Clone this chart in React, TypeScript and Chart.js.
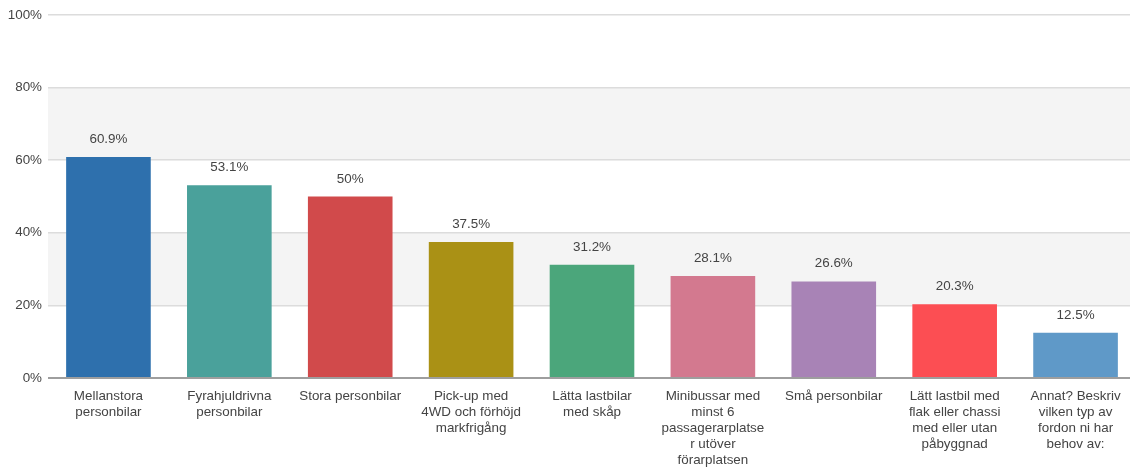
import React, { useEffect, useRef } from "react";
import { Chart, registerables } from "chart.js";

Chart.register(...registerables);

const categories: string[] = [
  "Mellanstora personbilar",
  "Fyrahjuldrivna personbilar",
  "Stora personbilar",
  "Pick-up med 4WD och förhöjd markfrigång",
  "Lätta lastbilar med skåp",
  "Minibussar med minst 6 passagerarplatser utöver förarplatsen",
  "Små personbilar",
  "Lätt lastbil med flak eller chassi med eller utan påbyggnad",
  "Annat? Beskriv vilken typ av fordon ni har behov av:",
];

const tickLabels: string[][] = [
  ["Mellanstora", "personbilar"],
  ["Fyrahjuldrivna", "personbilar"],
  ["Stora personbilar"],
  ["Pick-up med", "4WD och förhöjd", "markfrigång"],
  ["Lätta lastbilar", "med skåp"],
  ["Minibussar med", "minst 6", "passagerarplatse", "r utöver", "förarplatsen"],
  ["Små personbilar"],
  ["Lätt lastbil med", "flak eller chassi", "med eller utan", "påbyggnad"],
  ["Annat? Beskriv", "vilken typ av", "fordon ni har", "behov av:"],
];

const values: number[] = [60.9, 53.1, 50, 37.5, 31.2, 28.1, 26.6, 20.3, 12.5];

const valueLabels: string[] = ["60.9%", "53.1%", "50%", "37.5%", "31.2%", "28.1%", "26.6%", "20.3%", "12.5%"];

const barColors: string[] = [
  "#2e70ad",
  "#4aa19b",
  "#d14a4b",
  "#aa9115",
  "#4ba67b",
  "#d3798f",
  "#a883b6",
  "#fc4e53",
  "#5f99c8",
];

const yTicks: number[] = [0, 20, 40, 60, 80, 100];
const shadedBands: [number, number][] = [
  [20, 40],
  [60, 80],
];

const FONT = "'Liberation Sans', Arial, sans-serif";

export default function App() {
  const ref = useRef<HTMLCanvasElement | null>(null);

  useEffect(() => {
    document.body.style.overflow = "hidden";
    const canvas = ref.current;
    if (!canvas) return;

    const bandPlugin = {
      id: "bands",
      beforeDraw(chart: any) {
        const { ctx, chartArea, scales } = chart;
        const y = scales.y;
        ctx.save();
        ctx.fillStyle = "#f4f4f4";
        for (const [a, b] of shadedBands) {
          const top = y.getPixelForValue(b);
          const bot = y.getPixelForValue(a);
          ctx.fillRect(chartArea.left, top, chartArea.right - chartArea.left, bot - top);
        }
        ctx.restore();
      },
    };

    const labelPlugin = {
      id: "valueLabels",
      afterDatasetsDraw(chart: any) {
        const { ctx } = chart;
        const meta = chart.getDatasetMeta(0);
        ctx.save();
        ctx.font = `13.4px ${FONT}`;
        ctx.fillStyle = "#444";
        ctx.textAlign = "center";
        ctx.textBaseline = "alphabetic";
        meta.data.forEach((bar: any, i: number) => {
          ctx.fillText(valueLabels[i], bar.x, bar.y - 14);
        });
        ctx.restore();
      },
    };

    const chart = new Chart(canvas, {
      type: "bar",
      data: {
        labels: categories,
        datasets: [
          {
            data: values,
            backgroundColor: barColors,
            borderWidth: 0,
            barPercentage: 0.7,
            categoryPercentage: 1,
          },
        ],
      },
      options: {
        animation: false,
        responsive: true,
        maintainAspectRatio: false,
        layout: { padding: { top: 15, right: 0, left: 0, bottom: 0 } },
        plugins: {
          legend: { display: false },
          tooltip: { enabled: false },
        },
        scales: {
          x: {
            grid: { display: false },
            border: { display: false },
            ticks: {
              autoSkip: false,
              maxRotation: 0,
              minRotation: 0,
              padding: 2,
              color: "#444",
              font: { family: FONT, size: 13.4, lineHeight: 1.2 },
              callback: (_v: any, i: number) => tickLabels[i],
            },
            afterFit(scale: any) {
              scale.height = 90;
            },
          },
          y: {
            min: 0,
            max: 100,
            afterBuildTicks(scale: any) {
              scale.ticks = yTicks.map((v) => ({ value: v }));
            },
            grid: {
              drawTicks: false,
              lineWidth: (c: any) => (c.tick && c.tick.value === 0 ? 2 : 1.5),
              color: (c: any) => (c.tick && c.tick.value === 0 ? "#9e9e9e" : "#dcdcdc"),
            },
            border: { display: false },
            ticks: {
              padding: 6,
              color: "#444",
              font: { family: FONT, size: 13.4 },
              callback: (v: any) => `${v}%`,
            },
            afterFit(scale: any) {
              scale.width = 48;
            },
          },
        },
      },
      plugins: [bandPlugin, labelPlugin],
    });

    return () => chart.destroy();
  }, []);

  return (
    <div style={{ position: "fixed", left: 0, top: 0, width: 1136, height: 468, background: "#fff" }}>
      <canvas ref={ref} />
    </div>
  );
}
